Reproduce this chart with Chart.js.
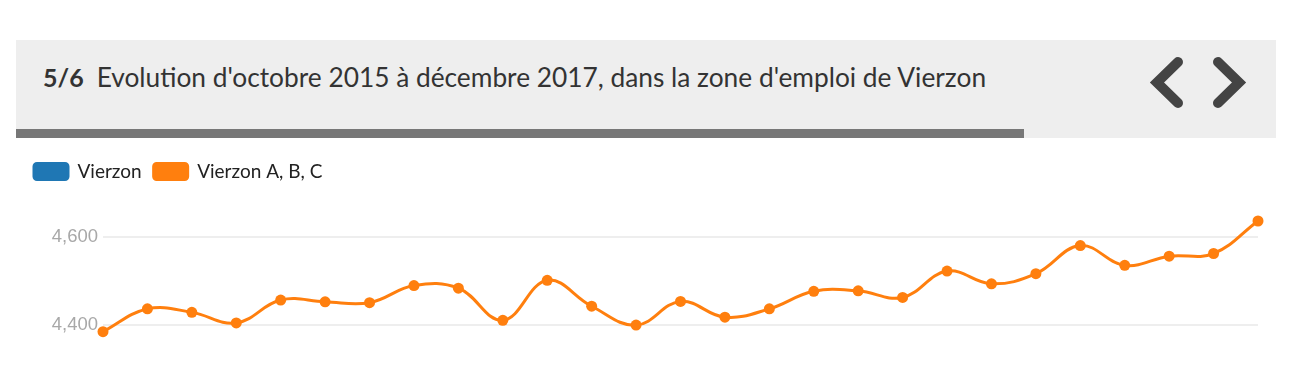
<!DOCTYPE html>
<html>
<head>
<meta charset="utf-8">
<script src="https://cdn.jsdelivr.net/npm/chart.js@4/dist/chart.umd.min.js"></script>
<style>
  html, body { margin: 0; padding: 0; background: #fff; width: 1307px; height: 367px; overflow: hidden; }
  #header { position: absolute; left: 16px; top: 40px; width: 1260px; height: 98px; background: #eeeeee; }
  #bar { position: absolute; left: 16px; top: 129px; width: 1008px; height: 9px; background: #777777; }
  #title { position: absolute; left: 43px; top: 58px; font-family: Lato, sans-serif; font-size: 26.3px; color: #333; white-space: nowrap; line-height: 38px; }
  #title b { font-weight: 700; font-size: 25px; margin-right: 13px; }
  #nav { position: absolute; left: 1140px; top: 50px; }
  #wrap { position: absolute; left: 0; top: 145px; width: 1307px; height: 222px; }
</style>
</head>
<body>
<div id="header"></div>
<div id="bar"></div>
<div id="title"><b>5/6</b>Evolution d'octobre 2015 à décembre 2017, dans la zone d'emploi de Vierzon</div>
<svg id="nav" width="120" height="70" viewBox="0 0 120 70">
  <polyline points="38,12 17,32.5 38,53" fill="none" stroke="#444" stroke-width="10" stroke-linecap="round" stroke-linejoin="miter"/>
  <polyline points="78,12 99,32.5 78,53" fill="none" stroke="#444" stroke-width="10" stroke-linecap="round" stroke-linejoin="miter"/>
</svg>
<div id="wrap"><canvas id="c"></canvas></div>
<script>
const categories = ["oct. 2015","nov. 2015","déc. 2015","janv. 2016","févr. 2016","mars 2016","avr. 2016","mai 2016","juin 2016","juil. 2016","août 2016","sept. 2016","oct. 2016","nov. 2016","déc. 2016","janv. 2017","févr. 2017","mars 2017","avr. 2017","mai 2017","juin 2017","juil. 2017","août 2017","sept. 2017","oct. 2017","nov. 2017","déc. 2017"];
const vierzonValues = [];
const vierzonABCValues = [4385,4437,4429,4405,4457,4453,4451,4490,4484,4411,4502,4443,4400,4454,4418,4437,4477,4478,4463,4523,4494,4517,4581,4536,4557,4563,4637];
const tickStep = 200;

const legendFix = {
  id: 'legendFix',
  beforeInit(chart) {
    const fit = chart.legend.fit;
    chart.legend.fit = function () { fit.call(this); this.height = 71; };
  }
};

new Chart(document.getElementById('c'), {
  type: 'line',
  data: {
    labels: categories,
    datasets: [
      { label: 'Vierzon', data: vierzonValues, borderColor: '#1f77b4', backgroundColor: '#1f77b4' },
      { label: 'Vierzon A, B, C', data: vierzonABCValues, borderColor: '#ff7f0e', backgroundColor: '#ff7f0e',
        borderWidth: 3, pointRadius: 5.5, pointBorderWidth: 0, tension: 0.4, clip: false, fill: false }
    ]
  },
  options: {
    responsive: true,
    maintainAspectRatio: false,
    animation: false,
    layout: { padding: { left: 22, right: 49, top: 5, bottom: 35.3 } },
    plugins: {
      legend: {
        display: true, position: 'top', align: 'start',
        labels: { boxWidth: 34, boxHeight: 16, padding: 12, color: '#222', useBorderRadius: true, borderRadius: 3,
                  font: { family: 'Lato, sans-serif', size: 19 } }
      },
      tooltip: { enabled: false }
    },
    scales: {
      x: { display: false },
      y: {
        min: Math.min(...vierzonABCValues),
        max: Math.max(...vierzonABCValues),
        border: { display: false },
        grid: { color: '#eeeeee', drawTicks: false, lineWidth: 2 },
        ticks: { stepSize: tickStep, padding: 5, color: '#a8a8a8', font: { family: 'Liberation Sans, Arial, sans-serif', size: 18.5 } },
        afterBuildTicks(scale) {
          const t = [];
          for (let v = Math.ceil(scale.min / tickStep) * tickStep; v <= scale.max; v += tickStep) t.push({ value: v });
          scale.ticks = t;
        },
        afterFit(scale) { scale.width = 81; }
      }
    }
  },
  plugins: [legendFix]
});
</script>
</body>
</html>
